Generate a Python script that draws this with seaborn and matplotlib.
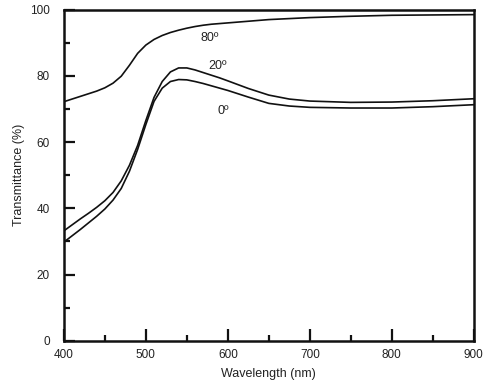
import pandas as pd
import seaborn as sns
import matplotlib.pyplot as plt
from matplotlib.ticker import MultipleLocator

wavelength = [400, 410, 420, 430, 440, 450, 460, 470, 480, 490, 500, 510, 520, 530, 540,
              550, 560, 570, 580, 590, 600, 625, 650, 675, 700, 750, 800, 850, 900]
t_80 = [72.2, 73.0, 73.8, 74.6, 75.4, 76.4, 77.8, 79.9, 83.2, 86.8, 89.3, 91.0, 92.2, 93.1, 93.8,
        94.4, 94.9, 95.3, 95.6, 95.8, 96.0, 96.5, 97.0, 97.3, 97.6, 98.0, 98.3, 98.4, 98.5]
t_20 = [33.2, 35.0, 36.8, 38.5, 40.3, 42.3, 44.8, 48.3, 53.0, 59.0, 66.5, 73.5, 78.3, 81.2, 82.4,
        82.4, 81.8, 81.0, 80.2, 79.4, 78.5, 76.2, 74.2, 73.0, 72.4, 72.0, 72.1, 72.5, 73.1]
t_0 = [29.8, 31.7, 33.6, 35.6, 37.6, 39.8, 42.5, 46.0, 51.2, 57.8, 65.3, 72.3, 76.3, 78.3, 78.9,
       78.8, 78.3, 77.7, 77.0, 76.3, 75.6, 73.6, 71.7, 70.9, 70.5, 70.3, 70.3, 70.7, 71.3]
angles = ["80º", "20º", "0º"]

df = pd.concat([
    pd.DataFrame({"wl": wavelength, "T": vals, "angle": a})
    for a, vals in zip(angles, [t_80, t_20, t_0])
])

sns.set_style("ticks")
plt.rcParams["font.family"] = ["Liberation Sans", "DejaVu Sans"]

fig = plt.figure(figsize=(4.91, 3.86), dpi=100)
ax = fig.add_axes([0.130, 0.117, 0.835, 0.858])

sns.lineplot(data=df, x="wl", y="T", hue="angle", palette=["#111111"] * 3,
             linewidth=1.2, legend=False, ax=ax)

ax.set_xlim(400, 900)
ax.set_ylim(0, 100)
ax.xaxis.set_major_locator(MultipleLocator(100))
ax.xaxis.set_minor_locator(MultipleLocator(50))
ax.yaxis.set_major_locator(MultipleLocator(20))
ax.yaxis.set_minor_locator(MultipleLocator(10))
ax.xaxis.set_ticks_position("bottom")
ax.yaxis.set_ticks_position("left")
ax.tick_params(which="major", direction="in", length=8.5, width=1.6,
               labelsize=8.5, colors="#111111", labelcolor="#222222")
ax.tick_params(which="minor", direction="in", length=4.5, width=1.6, colors="#111111")
ax.tick_params(axis="y", which="major", length=8, pad=10)
ax.tick_params(axis="x", which="major", pad=6)
for s in ax.spines.values():
    s.set_linewidth(1.8)
    s.set_color("#111111")

ax.set_xlabel("Wavelength (nm)", fontsize=9, color="#222222", labelpad=5)
ax.set_ylabel("Transmittance (%)", fontsize=9, color="#222222", labelpad=4)

ax.text(578, 91.5, angles[0], fontsize=9, color="#222222", ha="center", va="center")
ax.text(587, 83, angles[1], fontsize=9, color="#222222", ha="center", va="center")
ax.text(595, 69.5, angles[2], fontsize=9, color="#222222", ha="center", va="center")

fig.savefig("out.png", dpi=100)
